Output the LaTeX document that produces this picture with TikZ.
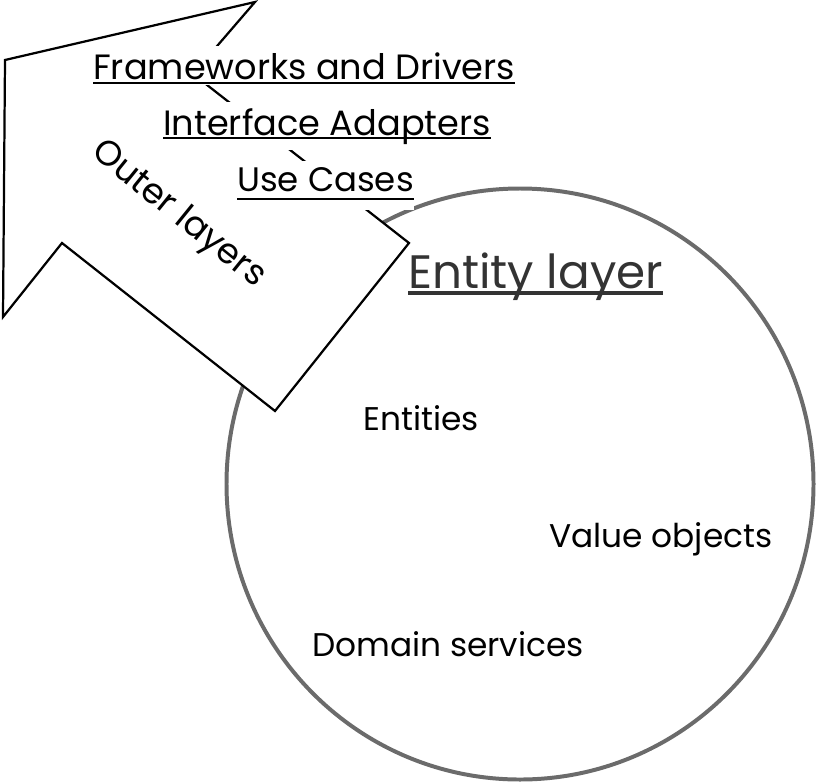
\documentclass[tikz,border=0pt]{standalone}
\usepackage{fontspec}
\setmainfont{Poppins}
\usepackage{xcolor}
\usetikzlibrary{positioning,calc}

\definecolor{ringgray}{HTML}{6B6B6B}
\definecolor{titlegray}{HTML}{333333}

\tikzset{
    layername/.style={font=\fontsize{30}{36}\selectfont, anchor=base west, fill=white, inner xsep=0pt, inner ysep=5pt},
    partname/.style={font=\fontsize{28}{34}\selectfont, anchor=base west, inner sep=0pt},
    uline/.style={line width=2pt}
}

\begin{document}
\begin{tikzpicture}[x=0.03cm, y=-0.03cm]
        \useasboundingbox (0,0) rectangle (819,782);

        % Entity layer ring
        \draw[ringgray, line width=3.4pt] (520,484) ellipse [x radius=293.5, y radius=295.5];

        % Outer layers arrow
        \draw[line width=1.9pt, fill=white, line join=miter]
            (255,2) -- (5,60) -- (3,317) -- (62,243) -- (275,411) -- (409,243) -- (193,74) -- cycle;
        \node[font=\fontsize{30}{36}\selectfont, rotate=-39] (outer) at (178,215) {Outer layers};

        \node[layername] (fw) at (93,79) {Frameworks and Drivers};
        \node[layername] (ia) at (163,135) {Interface Adapters};
        \node[layername, font=\fontsize{29}{35}\selectfont, text depth=11pt] (uc) at (237,191) {Use Cases};
        \foreach \n/\d in {fw/4, ia/3, uc/8} {
            \draw[uline] ($(\n.base west)+(0,\d)$) -- ($(\n.base east)+(0,\d)$);
        }

        % Inside the ring
        \node[font=\fontsize{40}{48}\selectfont, text=titlegray, anchor=base west, inner sep=0pt] (entl) at (408,288) {Entity layer};
        \draw[titlegray, line width=3pt] ($(entl.base west)+(0,5)$) -- ($(entl.base east)+(0,5)$);

        \node[partname] (ent) at (363,430) {Entities};
        \node[partname] (vo) at (549,547) {Value objects};
        \node[partname] (ds) at (312,656) {Domain services};
    \end{tikzpicture}
\end{document}
